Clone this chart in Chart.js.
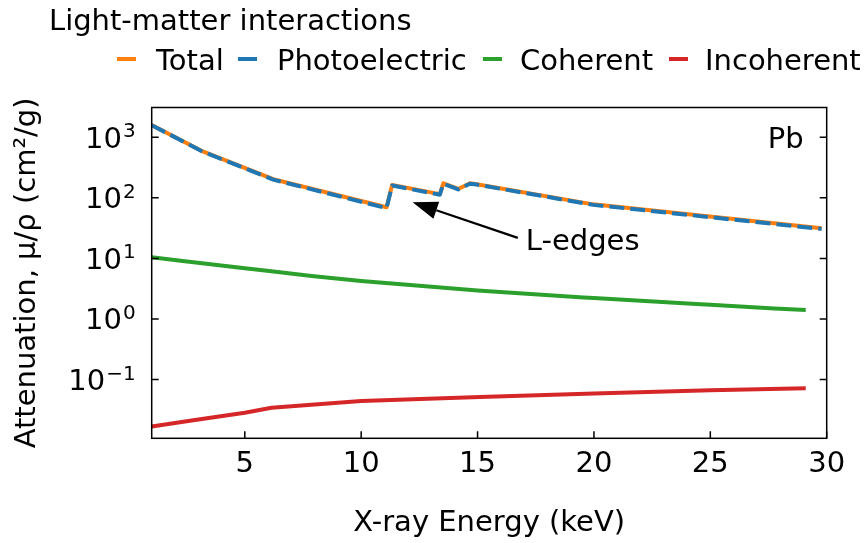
<!DOCTYPE html>
<html>
<head>
  <meta charset="UTF-8" />
  <title>Light-matter interactions - Pb</title>
  <script src="https://cdn.jsdelivr.net/npm/chart.js"></script>
  <style>
    html, body { margin: 0; padding: 0; background: #fff; }
    #wrap { width: 864px; height: 543px; position: relative; }
  </style>
</head>
<body>
  <div id="wrap"><canvas id="attnChart"></canvas></div>

  <script>
    // values
    const totalEnergy = [1.0, 3.22, 6.22, 11.09, 11.33, 13.38, 13.53, 14.17, 14.67, 14.96, 19.97, 24.26, 29.78];
    const totalValues = [1590, 578, 203, 70, 163, 115, 174, 140, 174, 168, 78, 52.5, 31.5];
    const photoValues = [1580, 572, 200, 67.5, 160, 112.5, 171, 137.5, 171, 165.5, 76.5, 51.3, 30.6];

    const coherentEnergy = [1, 5, 7.87, 10, 15, 20, 25, 29.1];
    const coherentValues = [10.4, 6.9, 5.14, 4.25, 2.95, 2.21, 1.71, 1.40];

    const incoherentEnergy = [1, 2.86, 5, 6.15, 10, 15.1, 20, 25, 29.1];
    const incoherentValues = [0.0167, 0.0214, 0.0283, 0.0342, 0.044, 0.0512, 0.0589, 0.0667, 0.072];

    const seriesLabels = ["Total", "Photoelectric", "Coherent", "Incoherent"];
    const seriesColors = ["#ff7f0e", "#1f77b4", "#2ca02c", "#d62728"];

    const xTicks = [5, 10, 15, 20, 25, 30];
    const yTicks = [0.1, 1, 10, 100, 1000];
    const yTickExp = ["\u22121", "0", "1", "2", "3"];

    const arrowTip = { x: 12.21, y: 84.5 };
    const arrowTail = { x: 16.73, y: 21.8 };
    const noteText = "L-edges";
    const elementText = "Pb";

    const FONT = "'DejaVu Sans', sans-serif";
    const FS = 29;

    function pts(xs, ys) {
      return xs.map((v, i) => ({ x: v, y: ys[i] }));
    }

    const decorations = {
      id: 'decorations',
      afterDatasetsDraw(chart) {
        const { ctx, chartArea: a, scales: { x, y } } = chart;
        ctx.save();

        // axes frame
        ctx.strokeStyle = '#000';
        ctx.lineWidth = 1.5;
        ctx.strokeRect(a.left, a.top, a.right - a.left, a.bottom - a.top);

        // inward ticks (bottom, left, right)
        ctx.beginPath();
        xTicks.forEach(v => {
          const px = x.getPixelForValue(v);
          ctx.moveTo(px, a.bottom);
          ctx.lineTo(px, a.bottom - 7);
        });
        yTicks.forEach(v => {
          const py = y.getPixelForValue(v);
          ctx.moveTo(a.left, py);
          ctx.lineTo(a.left + 7, py);
          ctx.moveTo(a.right, py);
          ctx.lineTo(a.right - 7, py);
        });
        ctx.stroke();

        // y tick labels 10^n
        ctx.fillStyle = '#000';
        ctx.textBaseline = 'alphabetic';
        ctx.textAlign = 'right';
        yTicks.forEach((v, i) => {
          const py = y.getPixelForValue(v);
          ctx.font = '20px ' + FONT;
          const ew = ctx.measureText(yTickExp[i]).width;
          ctx.fillText(yTickExp[i], a.left - 16, py);
          ctx.font = FS + 'px ' + FONT;
          ctx.fillText('10', a.left - 16 - ew - 1, py + 10.5);
        });

        // element label
        ctx.font = FS + 'px ' + FONT;
        ctx.fillText(elementText, a.right - 23, a.top + 40);

        // annotation arrow
        const tx = x.getPixelForValue(arrowTail.x), ty = y.getPixelForValue(arrowTail.y);
        const hx = x.getPixelForValue(arrowTip.x), hy = y.getPixelForValue(arrowTip.y);
        const dx = hx - tx, dy = hy - ty, len = Math.hypot(dx, dy);
        const ux = dx / len, uy = dy / len;
        const headLen = 25, headW = 9;
        const bx = hx - ux * headLen, by = hy - uy * headLen;
        ctx.lineWidth = 2.2;
        ctx.beginPath();
        ctx.moveTo(tx, ty);
        ctx.lineTo(bx, by);
        ctx.stroke();
        ctx.beginPath();
        ctx.moveTo(hx, hy);
        ctx.lineTo(bx - uy * headW, by + ux * headW);
        ctx.lineTo(bx + uy * headW, by - ux * headW);
        ctx.closePath();
        ctx.fill();

        ctx.textAlign = 'left';
        ctx.fillText(noteText, tx + 8, ty + 12);

        // legend
        ctx.fillText('Light-matter interactions', 49, 30);
        const swatchX = [117, 238, 483, 669];
        const textX = [156, 277, 520, 705];
        ctx.lineWidth = 4;
        seriesLabels.forEach((lab, i) => {
          ctx.strokeStyle = seriesColors[i];
          ctx.beginPath();
          ctx.moveTo(swatchX[i], 59);
          ctx.lineTo(swatchX[i] + 19, 59);
          ctx.stroke();
          ctx.fillText(lab, textX[i], 69.5);
        });

        ctx.restore();
      }
    };

    new Chart(document.getElementById('attnChart'), {
      type: 'line',
      data: {
        datasets: [
          {
            label: seriesLabels[0],
            data: pts(totalEnergy, totalValues),
            borderColor: seriesColors[0],
            borderWidth: 4,
            order: 2
          },
          {
            label: seriesLabels[1],
            data: pts(totalEnergy, photoValues),
            borderColor: seriesColors[1],
            borderWidth: 4,
            borderDash: [15, 6],
            order: 1
          },
          {
            label: seriesLabels[2],
            data: pts(coherentEnergy, coherentValues),
            borderColor: seriesColors[2],
            borderWidth: 4,
            cubicInterpolationMode: 'monotone',
            order: 3
          },
          {
            label: seriesLabels[3],
            data: pts(incoherentEnergy, incoherentValues),
            borderColor: seriesColors[3],
            borderWidth: 4,
            order: 4
          }
        ]
      },
      options: {
        responsive: true,
        maintainAspectRatio: false,
        animation: false,
        elements: { point: { radius: 0 }, line: { borderCapStyle: 'butt', borderJoinStyle: 'round' } },
        layout: { padding: { top: 107.5, right: 37.3, left: 0, bottom: 0 } },
        plugins: {
          legend: { display: false },
          tooltip: { enabled: false }
        },
        scales: {
          x: {
            type: 'linear',
            min: 1,
            max: 30,
            afterBuildTicks: s => { s.ticks = xTicks.map(v => ({ value: v })); },
            afterFit: s => { s.height = 104.7; },
            grid: { display: false, drawTicks: false },
            border: { display: false },
            ticks: {
              color: '#000',
              padding: 9,
              maxRotation: 0,
              font: { family: FONT, size: FS }
            },
            title: {
              display: true,
              text: 'X-ray Energy (keV)',
              color: '#000',
              padding: { top: 0, bottom: 2 },
              font: { family: FONT, size: FS }
            }
          },
          y: {
            type: 'logarithmic',
            min: 0.0107,
            max: 3100,
            afterBuildTicks: s => { s.ticks = yTicks.map(v => ({ value: v })); },
            afterFit: s => { s.width = 151.7; },
            grid: { display: false, drawTicks: false },
            border: { display: false },
            ticks: { display: false },
            title: {
              display: true,
              text: 'Attenuation, \u03bc/\u03c1 (cm\u00b2/g)',
              color: '#000',
              padding: { top: 10, bottom: 0 },
              font: { family: FONT, size: FS }
            }
          }
        }
      },
      plugins: [decorations]
    });
  </script>
</body>
</html>
